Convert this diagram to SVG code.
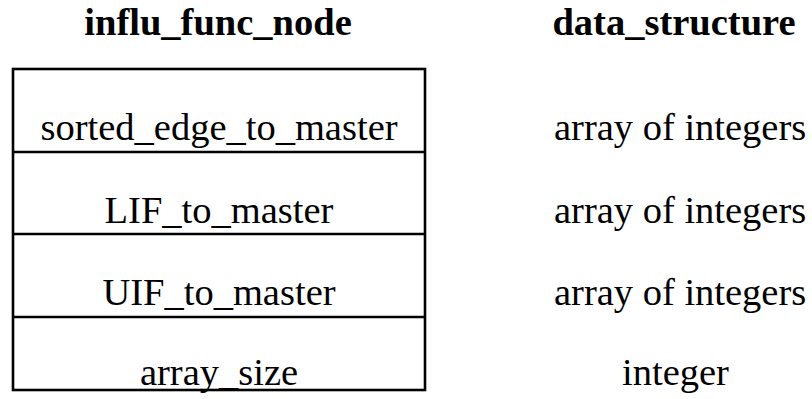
<svg xmlns="http://www.w3.org/2000/svg" width="812" height="399" viewBox="0 0 812 399">
  <style>
    text { font-family: "Liberation Serif", "Times New Roman", serif; font-size: 38.5px; fill: #000; }
    .title { font-weight: bold; text-anchor: middle; }
    .field { text-anchor: middle; }
    .type { text-anchor: start; }
    .frame { fill: none; stroke: #000; stroke-width: 2.6; }
    .sep { stroke: #000; stroke-width: 2.6; }
  </style>
  <rect width="812" height="399" fill="#fff"/>
  <g id="headers">
    <text class="title" x="218" y="35">influ_func_node</text>
    <text class="title" x="674" y="35">data_structure</text>
  </g>
  <g id="influ_func_node">
    <rect class="frame" x="13" y="69" width="412" height="321"/>
    <line class="sep" x1="13" y1="152" x2="425" y2="152"/>
    <line class="sep" x1="13" y1="234" x2="425" y2="234"/>
    <line class="sep" x1="13" y1="317" x2="425" y2="317"/>
    <g id="row-sorted_edge_to_master">
      <text class="field" x="219" y="140">sorted_edge_to_master</text>
    </g>
    <g id="row-LIF_to_master">
      <text class="field" x="219" y="223">LIF_to_master</text>
    </g>
    <g id="row-UIF_to_master">
      <text class="field" x="219" y="305">UIF_to_master</text>
    </g>
    <g id="row-array_size">
      <text class="field" x="219" y="385">array_size</text>
    </g>
  </g>
  <g id="data_structure">
    <text class="type" x="554" y="140">array of integers</text>
    <text class="type" x="554" y="223">array of integers</text>
    <text class="type" x="554" y="305">array of integers</text>
    <text class="type" x="622" y="385">integer</text>
  </g>
</svg>
